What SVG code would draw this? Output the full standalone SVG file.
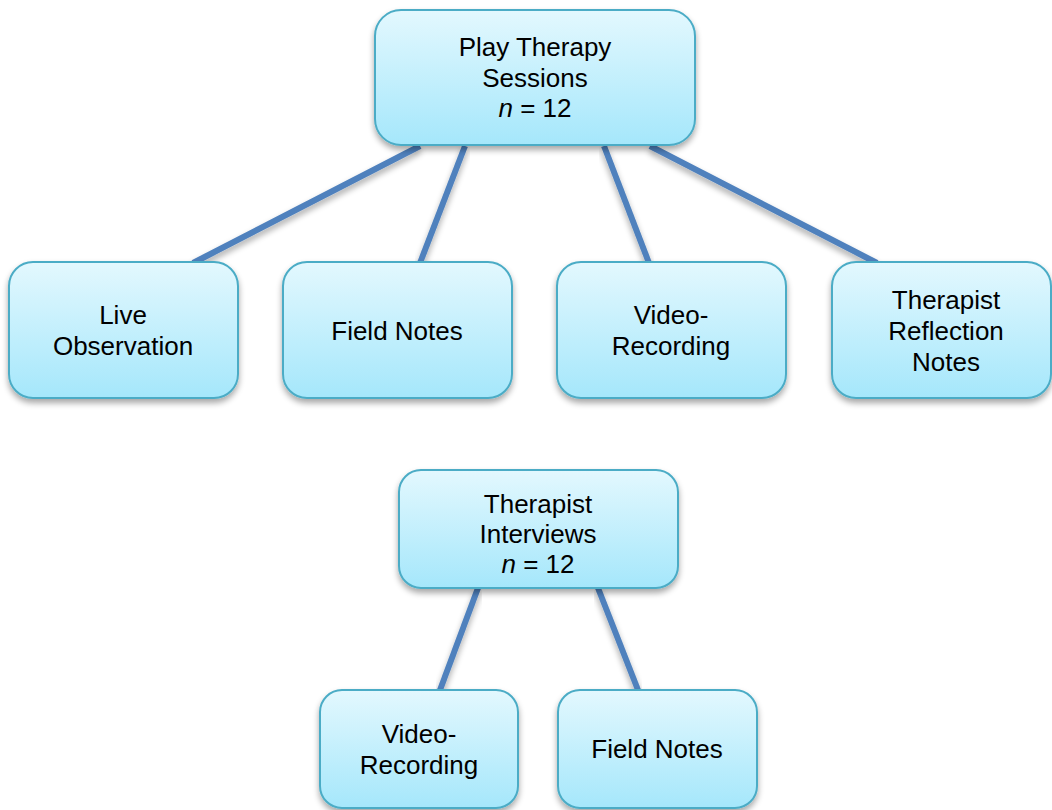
<svg xmlns="http://www.w3.org/2000/svg" width="1052" height="810" viewBox="0 0 1052 810">
<defs>
<linearGradient id="g" x1="0" y1="0" x2="0" y2="1">
<stop offset="0" stop-color="#e3f8fe"/>
<stop offset="1" stop-color="#a5e7fb"/>
</linearGradient>
<filter id="sh" x="-10%" y="-10%" width="120%" height="130%">
<feGaussianBlur in="SourceAlpha" stdDeviation="3"/>
<feOffset dx="0" dy="4" result="b"/>
<feComponentTransfer><feFuncA type="linear" slope="0.35"/></feComponentTransfer>
<feMerge><feMergeNode/><feMergeNode in="SourceGraphic"/></feMerge>
</filter>
</defs>
<style>
.box{fill:url(#g);stroke:#4bacc6;stroke-width:2;filter:url(#sh)}
.t{font-family:"Liberation Sans",Arial,sans-serif;font-size:26px;fill:#000;text-anchor:middle}
.c{stroke:#4f81bd;stroke-width:6;fill:none;filter:url(#sh)}
</style>
<g id="connectors">
<line class="c" x1="420" y1="146" x2="193" y2="263"/>
<line class="c" x1="465" y1="146" x2="420" y2="263"/>
<line class="c" x1="604" y1="146" x2="649" y2="263"/>
<line class="c" x1="650" y1="146" x2="877" y2="263"/>
<line class="c" x1="478" y1="588" x2="440" y2="690"/>
<line class="c" x1="598" y1="588" x2="638" y2="690"/>
</g>
<g id="play-therapy">
<rect class="box" x="375" y="10" width="320" height="135" rx="26"/>
<text class="t" x="535" y="56">Play Therapy</text>
<text class="t" x="535" y="87">Sessions</text>
<text class="t" x="535" y="117"><tspan font-style="italic">n</tspan> = 12</text>
</g>
<g id="live-observation">
<rect class="box" x="9" y="262" width="229" height="136" rx="24"/>
<text class="t" x="123" y="324">Live</text>
<text class="t" x="123" y="355">Observation</text>
</g>
<g id="field-notes-1">
<rect class="box" x="283" y="262" width="229" height="136" rx="24"/>
<text class="t" x="397" y="340">Field Notes</text>
</g>
<g id="video-recording-1">
<rect class="box" x="557" y="262" width="229" height="136" rx="24"/>
<text class="t" x="671" y="324">Video-</text>
<text class="t" x="671" y="355">Recording</text>
</g>
<g id="therapist-reflection">
<rect class="box" x="832" y="262" width="219" height="136" rx="24"/>
<text class="t" x="946" y="309">Therapist</text>
<text class="t" x="946" y="340">Reflection</text>
<text class="t" x="946" y="371">Notes</text>
</g>
<g id="therapist-interviews">
<rect class="box" x="399" y="470" width="279" height="118" rx="22"/>
<text class="t" x="538" y="513">Therapist</text>
<text class="t" x="538" y="543">Interviews</text>
<text class="t" x="538" y="573"><tspan font-style="italic">n</tspan> = 12</text>
</g>
<g id="video-recording-2">
<rect class="box" x="320" y="690" width="198" height="118" rx="22"/>
<text class="t" x="419" y="743">Video-</text>
<text class="t" x="419" y="774">Recording</text>
</g>
<g id="field-notes-2">
<rect class="box" x="558" y="690" width="199" height="118" rx="22"/>
<text class="t" x="657" y="758">Field Notes</text>
</g>
</svg>
